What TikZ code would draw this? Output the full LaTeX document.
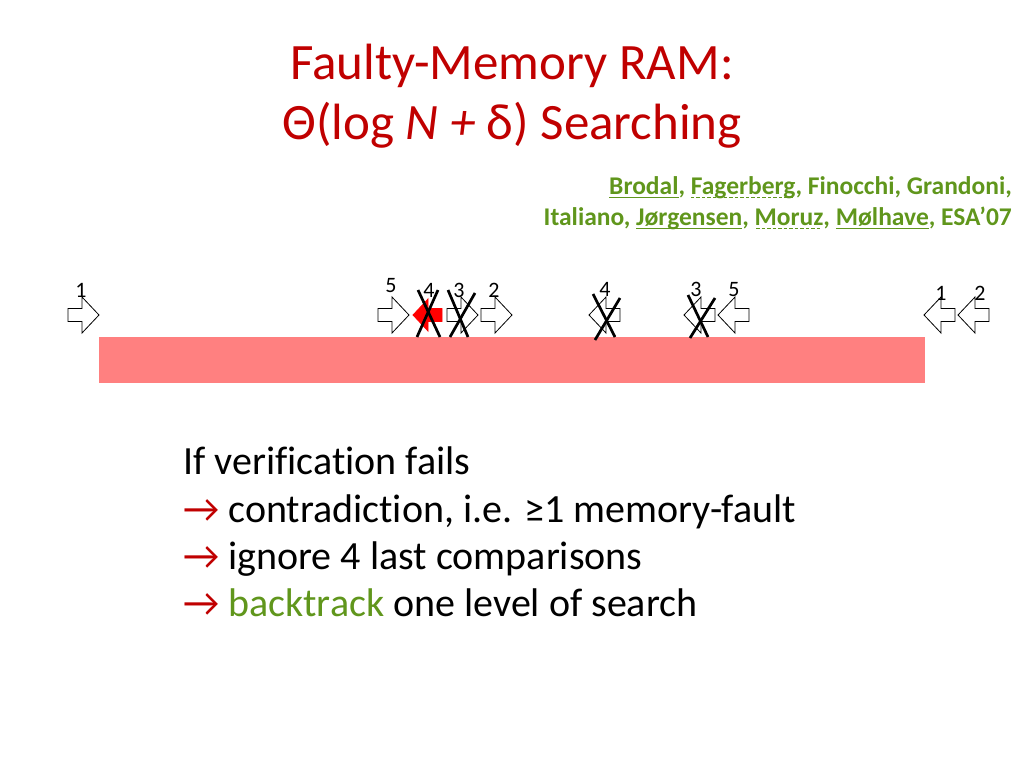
\documentclass[tikz,border=0pt]{standalone}
\usepackage{fontspec}
\setmainfont{Carlito}[Ligatures=NoCommon]
\newfontfamily\symfont{Carlito}
\definecolor{titlered}{RGB}{192,0,0}
\definecolor{citegreen}{RGB}{96,150,28}
\definecolor{barpink}{RGB}{255,128,128}
\newsavebox\ulbox
\newcommand{\solidul}[1]{\sbox\ulbox{#1}\rlap{\rule[-4pt]{\wd\ulbox}{1.4pt}}\usebox\ulbox}
\newcommand{\dashul}[1]{\sbox\ulbox{#1}\rlap{\raisebox{-4pt}{\hbox to \wd\ulbox{\cleaders\hbox{\rule{3.5pt}{1.4pt}\hspace{2pt}}\hfill}}}\usebox\ulbox}
\tikzset{
  arrowshape/.style={draw=black, fill=white, line width=0.8pt, line join=miter},
  redarrow/.style={draw=red, fill=red, line width=0.8pt, line join=miter},
  cross/.style={draw=black, line width=2.7pt},
  lab/.style={font=\fontsize{22}{24}\selectfont, inner sep=0pt, anchor=base},
  pics/rarr/.style={code={\path[arrowshape] (0,0) -- (-17,18) -- (-17,6.5) -- (-31,6.5) -- (-31,-6.5) -- (-17,-6.5) -- (-17,-18) -- cycle;}},
  pics/larr/.style={code={\path[arrowshape] (0,0) -- (17,-18) -- (17,-6.5) -- (31,-6.5) -- (31,6.5) -- (17,6.5) -- (17,18) -- cycle;}},
  pics/redlarr/.style={code={\path[redarrow] (0,0) -- (15,-16) -- (15,-6.5) -- (29,-6.5) -- (29,6.5) -- (15,6.5) -- (15,16) -- cycle;}},
  body/.style={font=\fontsize{40}{48}\selectfont, inner sep=0pt, anchor=base west},
  cite/.style={font=\bfseries\fontsize{25.5}{30}\selectfont, text=citegreen, inner sep=0pt, anchor=base east},
}
\newcommand{\rarrow}{\textcolor{titlered}{{\symfont\fontsize{40}{44}\selectfont →}}}
\begin{document}
\begin{tikzpicture}[x=1pt,y=-1pt]
\useasboundingbox (0,0) rectangle (1024,768);
% title
\node[font=\fontsize{51}{60}\selectfont, text=titlered, inner sep=0pt, anchor=base] (t1) at (512,79) {Faulty-Memory RAM:};
\node[font=\fontsize{51}{60}\selectfont, text=titlered, inner sep=0pt, anchor=base] (t2) at (512,139) {Θ(log \textit{N +} δ) Searching};
% citation
\node[cite] (c1) at (1012,194) {\solidul{Brodal}, \dashul{Fagerberg}, Finocchi, Grandoni,};
\node[cite] (c2) at (1012,225) {Italiano, \solidul{Jørgensen}, \dashul{Moruz}, \solidul{Mølhave}, ESA’07};
% bar
\path[fill=barpink] (99,337) rectangle (925,383);
% arrows
\pic (r1) at (99,315) {rarr};
\pic (r5) at (409,315) {rarr};
\pic (l4r) at (413,315) {redlarr};
\pic (r3) at (478,315) {rarr};
\pic (r2) at (512,315) {rarr};
\pic (l4) at (589,315) {larr};
\pic (l3) at (684,315) {larr};
\pic (l5) at (718,315) {larr};
\pic (l1) at (924,315) {larr};
\pic (l2) at (958,315) {larr};
% labels
\node[lab] (n1) at (81,297) {1};
\node[lab] (n5) at (391,292) {5};
\node[lab] (n4) at (429,297) {4};
\node[lab] (n3) at (459,297) {3};
\node[lab] (n2) at (494,297) {2};
\node[lab] (m4) at (605,296) {4};
\node[lab] (m3) at (696,296) {3};
\node[lab] (m5) at (734,296) {5};
\node[lab] (k1) at (941,300) {1};
\node[lab] (k2) at (980,300) {2};
% crosses
\draw[cross] (418,290) -- (440,337);
\draw[cross] (438,290) -- (417,337);
\draw[cross] (448,290) -- (468,337);
\draw[cross] (475,293) -- (450,337);
\draw[cross] (593,294) -- (615,337);
\draw[cross] (620,298) -- (595,340);
\draw[cross] (688,295) -- (708,337);
\draw[cross] (715,298) -- (690,338);
% body
\node[body] (b1) at (183,474) {If verification fails};
\node[body] (b2) at (183,522) {\rarrow{} contradiction, i.e. ≥1 memory-fault};
\node[body] (b3) at (183,569) {\rarrow{} ignore 4 last comparisons};
\node[body] (b4) at (183,616) {\rarrow{} \textcolor{citegreen}{backtrack} one level of search};
\end{tikzpicture}
\end{document}
